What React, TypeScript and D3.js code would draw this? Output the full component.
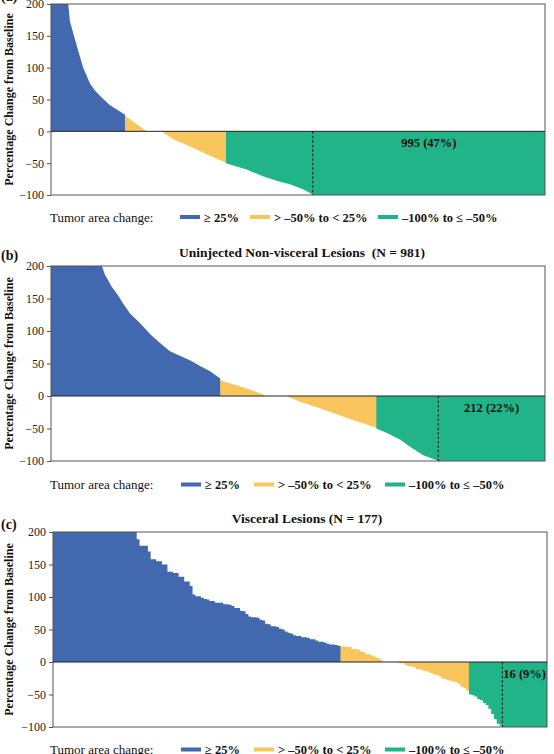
import { useEffect, useRef } from "react";
import * as d3 from "d3";

const W = 554;
const H = 754;
const SERIF = '"Liberation Serif", "Times New Roman", Times, serif';

const CATEGORY_LABELS = ["≥ 25%", "> –50% to < 25%", "–100% to ≤ –50%"];
const CATEGORY_COLORS = ["#4269b0", "#f8c65c", "#21b489"];
const Y_TICKS = [-100, -50, 0, 50, 100, 150, 200];

// (a) all lesions: sorted profile as (rank, % change) knots
const allRank = [0, 74, 81, 117, 138, 167, 188, 217, 253, 287, 317, 317, 364, 410, 474, 524, 596, 667, 750, 750, 838, 905, 981, 1024, 1080, 1110, 1122, 2117];
const allPct = [200, 200, 173, 126, 100, 75, 64, 53, 41, 33, 26, 25, 12, 0, 0, -12.5, -24, -36, -49.5, -50, -60, -70, -79, -83, -91, -97, -100, -100];
const allCounts = [317, 433, 1367];
const allResponders = 995;

// (b) uninjected non-visceral lesions
const nonVisceralRank = [0, 101, 107, 120, 134, 144, 157, 177, 197, 216, 236, 256, 276, 296, 316, 336, 336, 362, 395, 422, 424, 468, 494, 534, 588, 627, 646, 646, 667, 693, 713, 739, 766, 769, 981];
const nonVisceralPct = [200, 200, 187, 169, 154, 141, 127, 112, 95, 82, 69, 62, 55, 46, 38, 27, 24, 18, 10, 2, 0, 0, -9, -19, -34, -44, -49, -50, -57, -67, -78, -91, -99, -100, -100];
const nonVisceralCounts = [336, 310, 335];
const nonVisceralResponders = 212;

// (c) visceral lesions, one value per lesion (sorted)
const visceralPct = [
  200, 200, 200, 200, 200, 200, 200, 200, 200, 200,
  200, 200, 200, 200, 200, 200, 200, 200, 200, 200,
  200, 200, 200, 200, 200, 200, 200, 200, 200, 200,
  189, 179, 179, 179, 170, 158, 158, 155, 155, 150,
  150, 139, 139, 137, 137, 131, 131, 124, 124, 117,
  104, 101, 101, 99, 97, 96, 94, 94, 91, 91,
  91, 89, 89, 88, 86, 83, 83, 79, 78, 74,
  70, 69, 69, 68, 65, 64, 59, 58, 55, 55,
  54, 51, 50, 47, 45, 44, 41, 40, 40, 38,
  38, 37, 35, 35, 33, 31, 31, 30, 28, 27,
  27, 26, 25, 24, 24, 23, 23, 20, 20, 19,
  16, 15, 12, 12, 10, 8, 6, 4, 0, 0,
  0, 0, 0, 0, -2, -2, -5, -6, -7, -8,
  -11, -11, -13, -14, -15, -17, -19, -20, -22, -25,
  -26, -28, -29, -30, -31, -34, -38, -40, -44, -50,
  -51, -53, -57, -59, -63, -66, -72, -80, -88, -95,
  -98, -100, -100, -100, -100, -100, -100, -100, -100, -100,
  -100, -100, -100, -100, -100, -100, -100,
];
const visceralResponders = visceralPct.filter((v) => v === -100).length;
const visceralCounts = [
  visceralPct.filter((v) => v >= 25).length,
  visceralPct.filter((v) => v > -50 && v < 25).length,
  visceralPct.filter((v) => v <= -50).length,
];

const panels = [
  {
    key: "a",
    tag: "(a)",
    tagY: 1,
    title: null,
    top: 4,
    bottom: 195,
    left: 51,
    right: 545,
    rank: allRank,
    pct: allPct,
    counts: allCounts,
    responders: allResponders,
    curve: d3.curveLinear,
    legendY: 217,
    legendX: [180, 250, 378],
  },
  {
    key: "b",
    tag: "(b)",
    tagY: 260,
    title: "Uninjected Non-visceral Lesions  (N = 981)",
    titleX: 302,
    titleY: 257,
    top: 266,
    bottom: 461,
    left: 51,
    right: 545,
    rank: nonVisceralRank,
    pct: nonVisceralPct,
    counts: nonVisceralCounts,
    responders: nonVisceralResponders,
    curve: d3.curveLinear,
    legendY: 484.5,
    legendX: [181, 254, 385],
  },
  {
    key: "c",
    tag: "(c)",
    tagY: 529,
    title: "Visceral Lesions (N = 177)",
    titleX: 307,
    titleY: 523,
    top: 532,
    bottom: 727,
    left: 53,
    right: 547,
    rank: [...visceralPct.map((_, i) => i), visceralPct.length],
    pct: [...visceralPct, visceralPct[visceralPct.length - 1]],
    counts: visceralCounts,
    responders: visceralResponders,
    curve: d3.curveStepAfter,
    legendY: 749.5,
    legendX: [181, 254, 385],
  },
];

const drawPanel = (svg, p) => {
  const n = d3.sum(p.counts);
  const x = d3.scaleLinear().domain([0, n]).range([p.left, p.right]);
  const y = d3.scaleLinear().domain([-100, 200]).range([p.bottom, p.top]);

  const g = svg.append("g");
  const defs = svg.append("defs");

  const area = d3
    .area()
    .x((d) => x(d[0]))
    .y0(y(0))
    .y1((d) => y(d[1]))
    .curve(p.curve);
  const pts = p.rank.map((r, i) => [r, p.pct[i]]);

  // one fill per response category, cut out of the same profile
  let start = 0;
  p.counts.forEach((c, k) => {
    const id = `clip-${p.key}-${k}`;
    defs
      .append("clipPath")
      .attr("id", id)
      .append("rect")
      .attr("x", x(start))
      .attr("y", p.top - 1)
      .attr("width", x(start + c) - x(start) + (k < 2 ? 0.6 : 0))
      .attr("height", p.bottom - p.top + 2);
    g.append("path")
      .attr("d", area(pts))
      .attr("fill", CATEGORY_COLORS[k])
      .attr("clip-path", `url(#${id})`);
    start += c;
  });

  // plot frame + zero line
  g.append("rect")
    .attr("x", p.left)
    .attr("y", p.top)
    .attr("width", p.right - p.left)
    .attr("height", p.bottom - p.top)
    .attr("fill", "none")
    .attr("stroke", "#555")
    .attr("stroke-width", 1);
  g.append("line")
    .attr("x1", p.left)
    .attr("x2", p.right)
    .attr("y1", y(0))
    .attr("y2", y(0))
    .attr("stroke", "#222")
    .attr("stroke-width", 1);

  // complete-response cut-off
  const cut = x(n - p.responders);
  g.append("line")
    .attr("x1", cut)
    .attr("x2", cut)
    .attr("y1", y(0))
    .attr("y2", p.bottom)
    .attr("stroke", "#111")
    .attr("stroke-width", 1)
    .attr("stroke-dasharray", "2.5,2");
  g.append("text")
    .attr("x", (cut + p.right) / 2)
    .attr("y", y(0) + 16)
    .attr("text-anchor", "middle")
    .attr("font-family", SERIF)
    .attr("font-size", 12.5)
    .attr("font-weight", "bold")
    .attr("fill", "#111")
    .text(`${p.responders} (${Math.round((p.responders / n) * 100)}%)`);

  const yAxis = g
    .append("g")
    .attr("transform", `translate(${p.left},0)`)
    .call(d3.axisLeft(y).tickValues(Y_TICKS).tickSize(4).tickPadding(3));
  yAxis.select(".domain").remove();
  yAxis.selectAll(".tick line").attr("stroke", "#555");
  yAxis
    .selectAll(".tick text")
    .attr("font-family", SERIF)
    .attr("font-size", 12)
    .attr("fill", "#222");

  g.append("text")
    .attr("transform", `translate(13,${(p.top + p.bottom) / 2}) rotate(-90)`)
    .attr("text-anchor", "middle")
    .attr("font-family", SERIF)
    .attr("font-size", 12)
    .attr("font-weight", "bold")
    .attr("fill", "#111")
    .text("Percentage Change from Baseline");

  g.append("text")
    .attr("x", 1)
    .attr("y", p.tagY)
    .attr("font-family", SERIF)
    .attr("font-size", 14)
    .attr("font-weight", "bold")
    .attr("fill", "#111")
    .text(p.tag);

  if (p.title) {
    g.append("text")
      .attr("x", p.titleX)
      .attr("y", p.titleY)
      .attr("text-anchor", "middle")
      .attr("font-family", SERIF)
      .attr("font-size", 13.5)
      .attr("font-weight", "bold")
      .attr("fill", "#111")
      .style("white-space", "pre")
      .text(p.title);
  }

  // legend row
  const lg = g.append("g").attr("font-family", SERIF).attr("fill", "#111");
  lg.append("text")
    .attr("x", 50)
    .attr("y", p.legendY + 4.5)
    .attr("font-size", 13)
    .text("Tumor area change:");
  CATEGORY_LABELS.forEach((label, k) => {
    const lx = p.legendX[k];
    lg.append("line")
      .attr("x1", lx)
      .attr("x2", lx + 20)
      .attr("y1", p.legendY)
      .attr("y2", p.legendY)
      .attr("stroke", CATEGORY_COLORS[k])
      .attr("stroke-width", 4);
    lg.append("text")
      .attr("x", lx + 24)
      .attr("y", p.legendY + 4.5)
      .attr("font-size", 12.5)
      .attr("font-weight", "bold")
      .text(label);
  });
};

const App = () => {
  const svgRef = useRef(null);

  useEffect(() => {
    const svg = d3.select(svgRef.current);
    svg.selectAll("*").remove();
    panels.forEach((p) => drawPanel(svg, p));
  }, []);

  return (
    <svg
      ref={svgRef}
      width={W}
      height={H}
      style={{ position: "absolute", left: 0, top: 0, background: "#fff" }}
    />
  );
};

export default App;
